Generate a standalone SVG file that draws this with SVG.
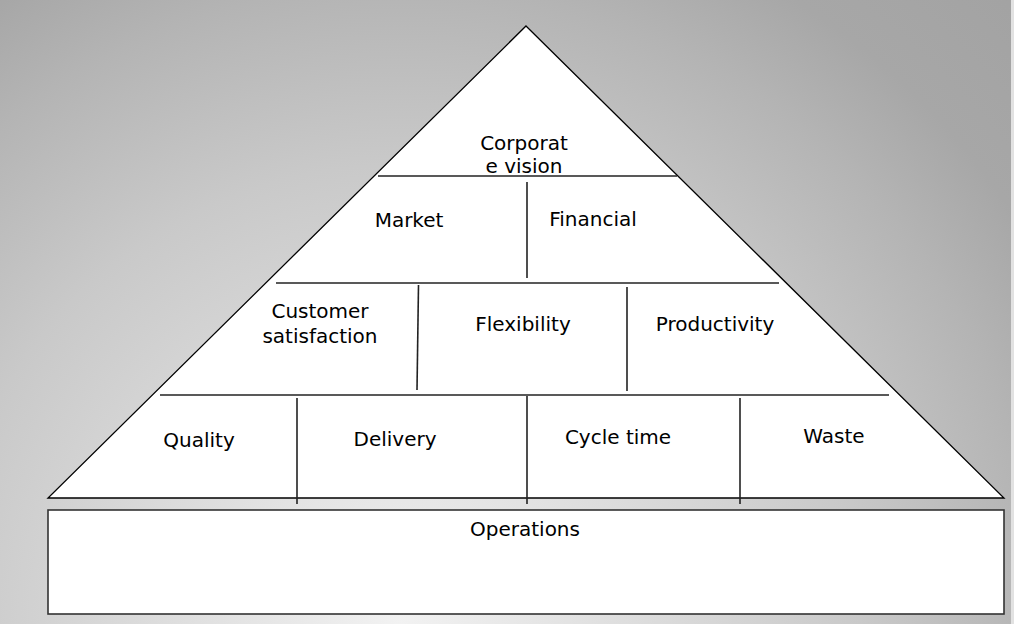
<svg xmlns="http://www.w3.org/2000/svg" width="1014" height="624" viewBox="0 0 1014 624">
<defs>
<radialGradient id="bg" gradientUnits="userSpaceOnUse" cx="400" cy="624" r="900">
<stop offset="0" stop-color="#f2f2f2"/>
<stop offset="0.51" stop-color="#c9c9c9"/>
<stop offset="0.71" stop-color="#b4b4b4"/>
<stop offset="0.82" stop-color="#a7a7a7"/>
<stop offset="1" stop-color="#a2a2a2"/>
</radialGradient>
<style>
.shape{fill:#ffffff;stroke:#000000;stroke-width:1.3}
.ln{stroke:#222222;stroke-width:1.6;fill:none}
.t{font-family:"DejaVu Sans","Noto Sans",sans-serif;font-size:20px;fill:#000000;text-anchor:middle}
</style>
</defs>
<rect x="0" y="0" width="1014" height="624" fill="url(#bg)"/>
<rect x="1011" y="0" width="3" height="624" fill="#e2e2e2"/>
<g id="pyramid">
<polygon class="shape" points="526,26 1004,498 48,498"/>
</g>
<g id="operations">
<rect x="48" y="510" width="956" height="104" fill="#ffffff" stroke="#333333" stroke-width="1.6"/>
<text class="t" x="525" y="536">Operations</text>
</g>
<g id="connectors">
<line class="ln" x1="378" y1="176" x2="677" y2="176"/>
<line class="ln" x1="276" y1="283" x2="779" y2="283"/>
<line class="ln" x1="160" y1="395" x2="889" y2="395"/>
<line class="ln" x1="527" y1="182" x2="527" y2="278"/>
<line class="ln" x1="418.5" y1="285" x2="417" y2="390"/>
<line class="ln" x1="627" y1="287" x2="627" y2="391"/>
<line class="ln" x1="297" y1="398" x2="297" y2="504"/>
<line class="ln" x1="527" y1="396" x2="527" y2="504"/>
<line class="ln" x1="740" y1="398" x2="740" y2="504"/>
</g>
<g id="corporate-vision">
<text class="t" x="524" y="150">Corporat</text>
<text class="t" x="524" y="173">e vision</text>
</g>
<g id="market"><text class="t" x="409" y="227">Market</text></g>
<g id="financial"><text class="t" x="593" y="226">Financial</text></g>
<g id="customer-satisfaction">
<text class="t" x="320" y="318">Customer</text>
<text class="t" x="320" y="343">satisfaction</text>
</g>
<g id="flexibility"><text class="t" x="523" y="331">Flexibility</text></g>
<g id="productivity"><text class="t" x="715" y="331">Productivity</text></g>
<g id="quality"><text class="t" x="199" y="447">Quality</text></g>
<g id="delivery"><text class="t" x="395" y="446">Delivery</text></g>
<g id="cycle-time"><text class="t" x="618" y="444">Cycle time</text></g>
<g id="waste"><text class="t" x="834" y="443">Waste</text></g>
</svg>
